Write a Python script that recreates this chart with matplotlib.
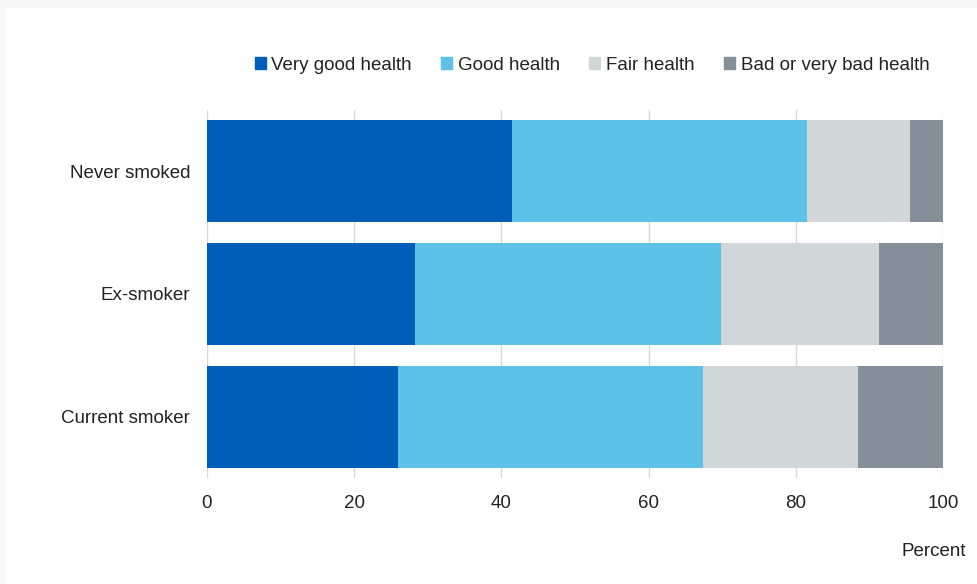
import matplotlib.pyplot as plt
import matplotlib.patches as mpatches
import numpy as np

plt.rcParams['font.family'] = ['Liberation Sans', 'DejaVu Sans']

groups = ["Never smoked", "Ex-smoker", "Current smoker"]
series = ["Very good health", "Good health", "Fair health", "Bad or very bad health"]
very_good = [41.5, 28.2, 26.0]
good = [40.0, 41.6, 41.4]
fair = [14.0, 21.5, 21.1]
bad = [4.5, 8.7, 11.5]
colors = ["#005EB8", "#5EC1E8", "#D1D7D8", "#848F9A"]
xticks = [0, 20, 40, 60, 80, 100]

fs = 13.5

fig = plt.figure(figsize=(9.77, 5.84), dpi=100)
fig.patch.set_facecolor("#f7f7f7")
fig.patches.append(mpatches.Rectangle((5 / 977, 0), 1, 1 - 8 / 584,
                                      transform=fig.transFigure,
                                      facecolor="white", edgecolor="none", zorder=-10))

ax = fig.add_axes([207 / 977, 1 - 478 / 584, (943 - 207) / 977, (478 - 110) / 584])
ax.set_zorder(5)
ax.set_facecolor("white")

y = np.arange(len(groups))
left = np.zeros(len(groups))
for name, vals, c in zip(series, [very_good, good, fair, bad], colors):
    ax.barh(y, vals, left=left, height=0.83, color=c, label=name, zorder=2)
    left = left + np.array(vals)

ax.set_xlim(0, 100)
ax.set_ylim(2.5, -0.5)
ax.set_yticks(y)
ax.set_yticklabels(groups, fontsize=fs, color="#222222")
ax.set_xticks(xticks)
ax.set_xticklabels([str(t) for t in xticks], fontsize=fs, color="#222222")
ax.tick_params(axis="both", length=0)
ax.tick_params(axis="x", pad=12)
ax.tick_params(axis="y", pad=12)
ax.grid(axis="x", color="#d9d9d9", linewidth=1, zorder=0)
for s in ax.spines.values():
    s.set_visible(False)

fig.text(966 / 977, 1 - 552 / 584, "Percent", ha="right", va="center",
         fontsize=fs, color="#222222")

handles = [mpatches.Patch(color=c) for c in colors]
fig.legend(handles, series, loc="center", bbox_to_anchor=(592 / 977, 1 - 65 / 584),
           ncol=4, frameon=False, fontsize=fs, handlelength=0.6, handleheight=0.6,
           handletextpad=0.3, columnspacing=1.55, labelcolor="#222222")

fig.savefig("out.png", dpi=100, facecolor=fig.get_facecolor())
